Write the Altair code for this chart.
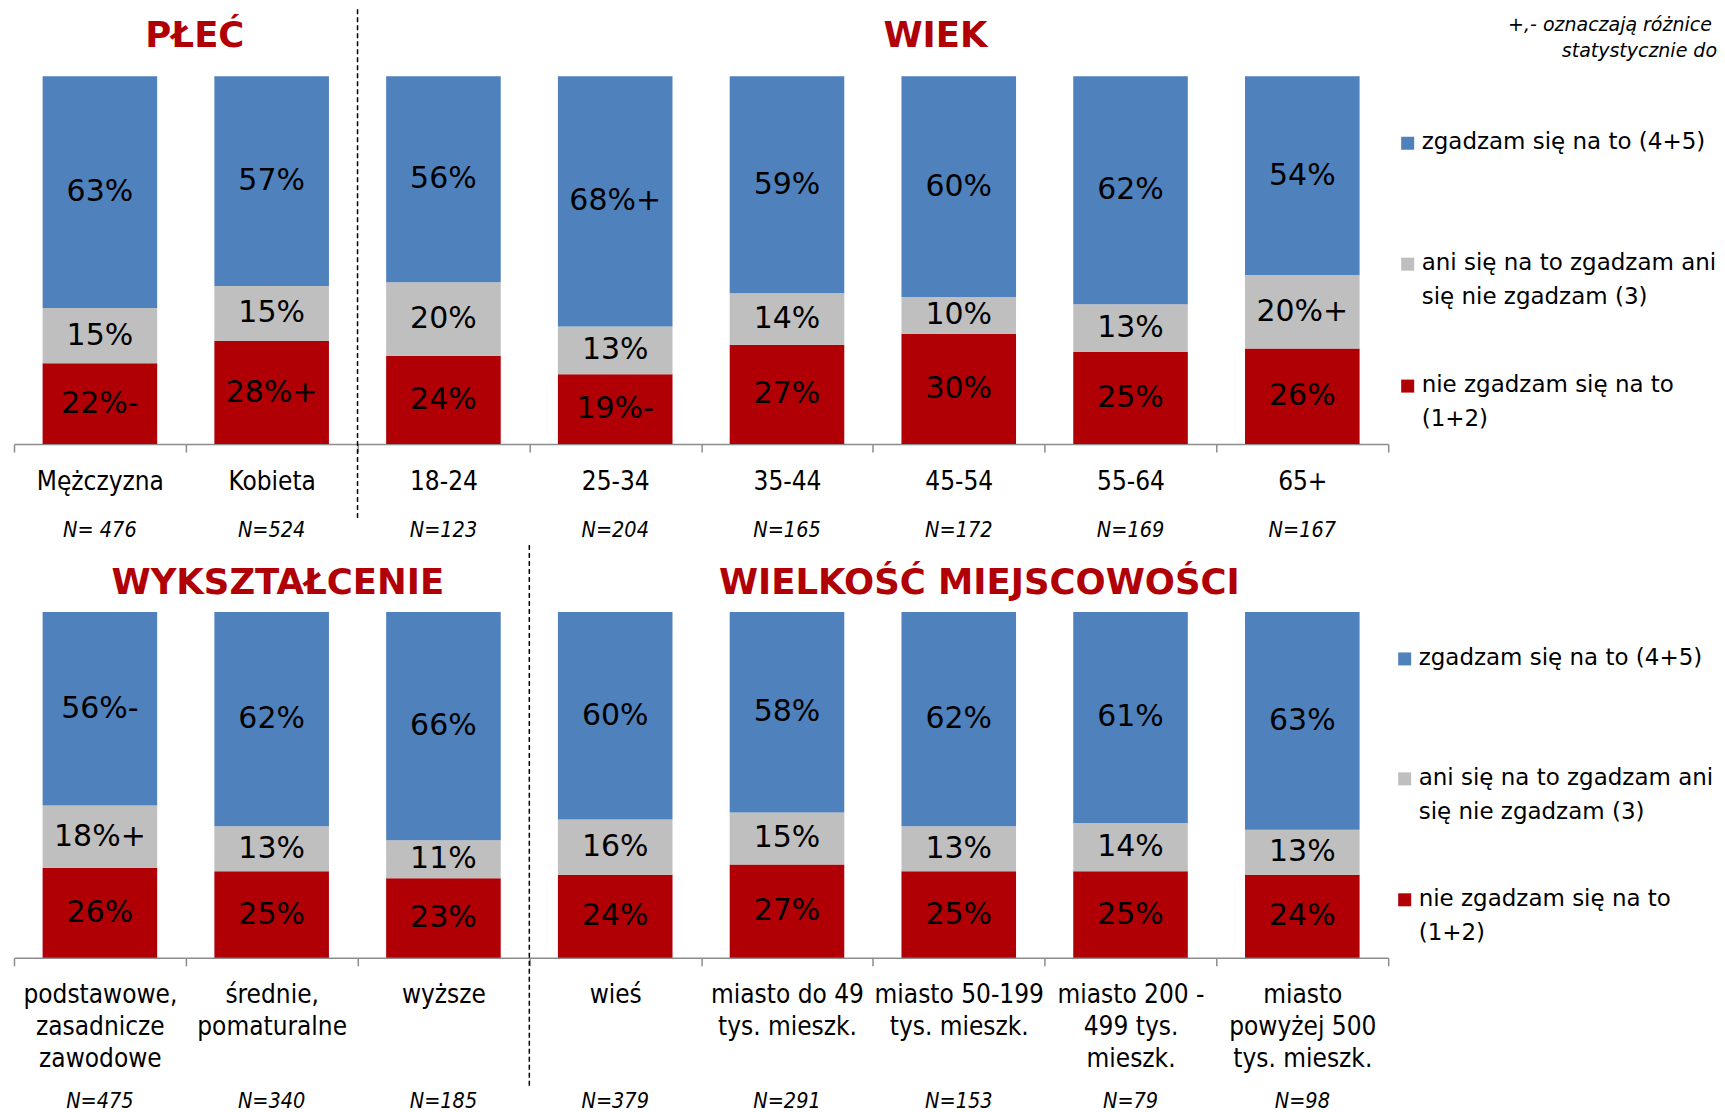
import altair as alt
import pandas as pd

SERIES = ["zgadzam się na to (4+5)",
          "ani się na to zgadzam ani się nie zgadzam (3)",
          "nie zgadzam się na to (1+2)"]
COLORS = ["#4F81BD", "#BFBFBF", "#B00006"]
TITLE_RED = "#B00006"

# ---- top row: PŁEĆ / WIEK ----
TOP_CATS = ["Mężczyzna", "Kobieta", "18-24", "25-34", "35-44", "45-54", "55-64", "65+"]
TOP_N = ["N= 476", "N=524", "N=123", "N=204", "N=165", "N=172", "N=169", "N=167"]
TOP_AGREE = [63, 57, 56, 68, 59, 60, 62, 54]
TOP_NEUTRAL = [15, 15, 20, 13, 14, 10, 13, 20]
TOP_DISAGREE = [22, 28, 24, 19, 27, 30, 25, 26]
TOP_AGREE_SIG = ["", "", "", "+", "", "", "", ""]
TOP_NEUTRAL_SIG = ["", "", "", "", "", "", "", "+"]
TOP_DISAGREE_SIG = ["-", "+", "", "-", "", "", "", ""]

# ---- bottom row: WYKSZTAŁCENIE / WIELKOŚĆ MIEJSCOWOŚCI ----
BOT_CATS = ["podstawowe,\nzasadnicze\nzawodowe", "średnie,\npomaturalne", "wyższe", "wieś",
            "miasto do 49\ntys. mieszk.", "miasto 50-199\ntys. mieszk.",
            "miasto 200 -\n499 tys.\nmieszk.", "miasto\npowyżej 500\ntys. mieszk."]
BOT_N = ["N=475", "N=340", "N=185", "N=379", "N=291", "N=153", "N=79", "N=98"]
BOT_AGREE = [56, 62, 66, 60, 58, 62, 61, 63]
BOT_NEUTRAL = [18, 13, 11, 16, 15, 13, 14, 13]
BOT_DISAGREE = [26, 25, 23, 24, 27, 25, 25, 24]
BOT_AGREE_SIG = ["-", "", "", "", "", "", "", ""]
BOT_NEUTRAL_SIG = ["+", "", "", "", "", "", "", ""]
BOT_DISAGREE_SIG = ["", "", "", "", "", "", "", ""]

LEGEND_LINES = [["zgadzam się na to (4+5)"],
                ["ani się na to zgadzam ani", "się nie zgadzam (3)"],
                ["nie zgadzam się na to", "(1+2)"]]
NOTE_LINES = ["+,- oznaczają różnice istotne", "statystycznie do"]

FONT = "DejaVu Sans"
COND = "DejaVu Sans Condensed, DejaVu Sans"
W = 1375


def make_row(cats, agree, neutral, disagree, sig_a, sig_n, sig_d, ns, titles,
             sep_cat, sep_y, n_y, legend_x, legend_ys, height, note=False):
    recs = []
    for i, c in enumerate(cats):
        for s, vals, sg, order in ((SERIES[2], disagree, sig_d, 0),
                                   (SERIES[1], neutral, sig_n, 1),
                                   (SERIES[0], agree, sig_a, 2)):
            recs.append({"cat": c, "series": s, "value": vals[i],
                         "label": f"{vals[i]}%{sg[i]}", "order": order})
    df = pd.DataFrame(recs)

    axis = alt.Axis(title=None, labelExpr="split(datum.label, '\\n')",
                    labelFont=COND, labelFontSize=26, labelColor="black",
                    labelLineHeight=32, labelBaseline="top", labelPadding=16,
                    labelAngle=0, labelLimit=400, tickBand="extent", tickSize=8,
                    tickColor="#8C8C8C", tickWidth=1.5, domainColor="#8C8C8C",
                    domainWidth=1.5, grid=False)
    xscale = alt.Scale(domain=cats, paddingInner=0, paddingOuter=0)

    def X(**kw):
        return alt.X("cat:N", sort=cats, scale=xscale, axis=axis, **kw)

    base = alt.Chart(df).transform_stack(
        stack="value", groupby=["cat"],
        sort=[alt.SortField("order", "ascending")], as_=["y0", "y1"]
    ).transform_calculate(mid="(datum.y0 + datum.y1) / 2")

    yscale = alt.Scale(domain=[0, 100])
    bars = base.mark_bar(width={"band": 0.667}).encode(
        x=X(),
        y=alt.Y("y0:Q", scale=yscale, axis=None),
        y2="y1:Q",
        color=alt.Color("series:N", scale=alt.Scale(domain=SERIES, range=COLORS), legend=None),
    )
    vals = base.mark_text(font=FONT, fontSize=30, color="black").encode(
        x=X(), y=alt.Y("mid:Q", scale=yscale, axis=None), text="label:N")

    layers = [bars, vals]

    ndf = pd.DataFrame({"cat": cats, "n": ns})
    layers.append(alt.Chart(ndf).mark_text(font=COND, fontSize=21.5, fontStyle="italic",
                                           color="black").encode(
        x=X(), y=alt.value(n_y), text="n:N"))

    sdf = pd.DataFrame({"cat": [sep_cat]})
    layers.append(alt.Chart(sdf).mark_rule(color="black", strokeWidth=1.5,
                                           strokeDash=[5, 3]).encode(
        x=X(bandPosition=0), y=alt.value(sep_y[0]), y2=alt.value(sep_y[1])))

    for title, cat, bp, ty in titles:
        tdf = pd.DataFrame({"cat": [cat], "t": [title]})
        layers.append(alt.Chart(tdf).mark_text(font=FONT, fontSize=35.5, fontWeight="bold",
                                               color=TITLE_RED).encode(
            x=X(bandPosition=bp), y=alt.value(ty), text="t:N"))

    one = pd.DataFrame({"k": [0]})
    for i, lines in enumerate(LEGEND_LINES):
        layers.append(alt.Chart(one).mark_square(size=169, color=COLORS[i], opacity=1).encode(
            x=alt.value(legend_x), y=alt.value(legend_ys[i])))
        layers.append(alt.Chart(one).mark_text(font=FONT, fontSize=23, align="left",
                                               baseline="top", lineHeight=34,
                                               color="black").encode(
            x=alt.value(legend_x + 14), y=alt.value(legend_ys[i] - 12),
            text=alt.value(lines)))

    if note:
        layers.append(alt.Chart(one).mark_text(font=FONT, fontSize=19, fontStyle="italic",
                                               align="left", color="black",
                                               limit=208, ellipsis="\u200b").encode(
            x=alt.value(1495), y=alt.value(-51), text=alt.value(NOTE_LINES[0])))
        layers.append(alt.Chart(one).mark_text(font=FONT, fontSize=19, fontStyle="italic",
                                               align="right", color="black").encode(
            x=alt.value(1704), y=alt.value(-25), text=alt.value(NOTE_LINES[1])))

    return alt.layer(*layers).properties(width=W, height=height)


top = make_row(TOP_CATS, TOP_AGREE, TOP_NEUTRAL, TOP_DISAGREE,
               TOP_AGREE_SIG, TOP_NEUTRAL_SIG, TOP_DISAGREE_SIG, TOP_N,
               titles=[("PŁEĆ", "Kobieta", 0.053, -40), ("WIEK", "45-54", 0.364, -40)],
               sep_cat="18-24", sep_y=(-67, 442), n_y=455,
               legend_x=1394.5, legend_ys=[67, 188, 310], height=368, note=True)

bottom = make_row(BOT_CATS, BOT_AGREE, BOT_NEUTRAL, BOT_DISAGREE,
                  BOT_AGREE_SIG, BOT_NEUTRAL_SIG, BOT_DISAGREE_SIG, BOT_N,
                  titles=[("WYKSZTAŁCENIE", "średnie,\npomaturalne", 0.536, -29),
                          ("WIELKOŚĆ MIEJSCOWOŚCI", "miasto 50-199\ntys. mieszk.", 0.62, -29)],
                  sep_cat="wieś", sep_y=(-67, 476), n_y=490,
                  legend_x=1391.5, legend_ys=[47, 167, 288], height=346)

chart = alt.vconcat(top, bottom, spacing=2).resolve_scale(
    x="independent", color="shared"
).properties(
    padding={"left": 5, "top": 0, "right": 0, "bottom": 0},
    background="white",
).configure_view(stroke=None)

chart.save("out.html", embed_options={"renderer": "svg", "actions": False})
